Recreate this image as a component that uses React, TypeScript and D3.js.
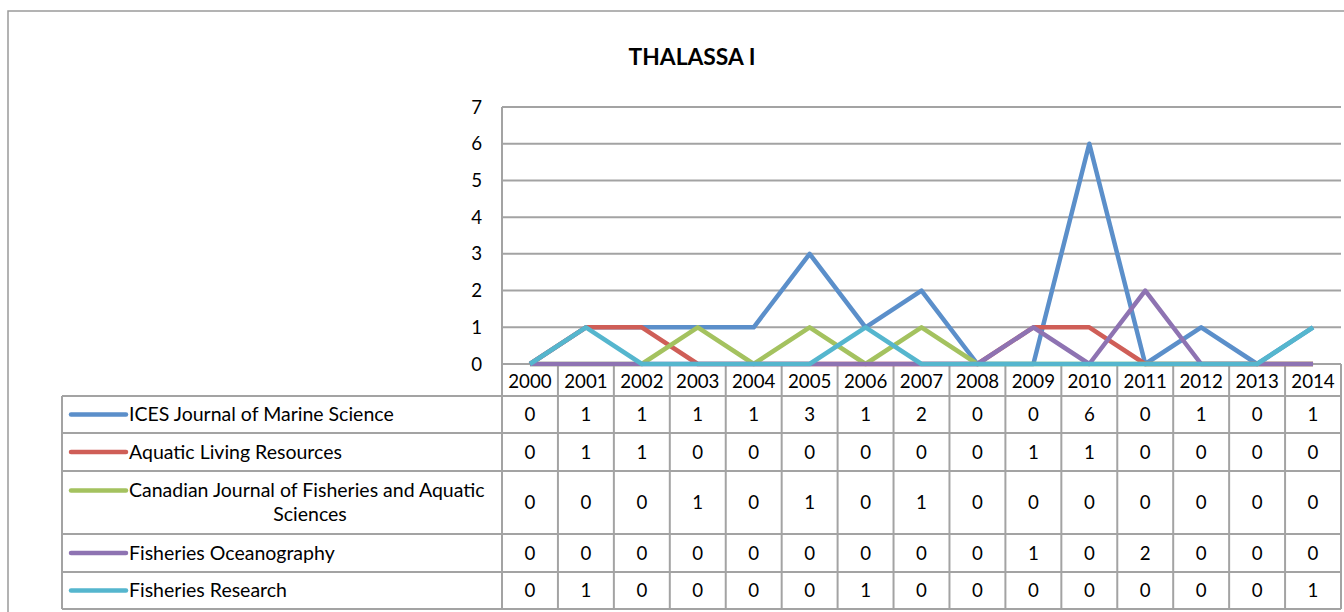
import React from "react";
import * as d3 from "d3";

const years = ["2000","2001","2002","2003","2004","2005","2006","2007","2008","2009","2010","2011","2012","2013","2014"];
const seriesNames = [
  "ICES Journal of Marine Science",
  "Aquatic Living Resources",
  "Canadian Journal of Fisheries and Aquatic Sciences",
  "Fisheries Oceanography",
  "Fisheries Research",
];
const icesValues = [0,1,1,1,1,3,1,2,0,0,6,0,1,0,1];
const aquaticValues = [0,1,1,0,0,0,0,0,0,1,1,0,0,0,0];
const canadianValues = [0,0,0,1,0,1,0,1,0,0,0,0,0,0,0];
const oceanographyValues = [0,0,0,0,0,0,0,0,0,1,0,2,0,0,0];
const researchValues = [0,1,0,0,0,0,1,0,0,0,0,0,0,0,1];
const yTicks = [0,1,2,3,4,5,6,7];
const colors = ["#5B8FCA", "#CF5E57", "#A4C25F", "#8E73B2", "#55B6CE"];

const allValues = [icesValues, aquaticValues, canadianValues, oceanographyValues, researchValues];

const FONT = "Lato, 'Open Sans', sans-serif";
const LABEL_SIZE = 19.5;
const NUM_SIZE = 18.7;

export default function App() {
  const plotL = 502, plotR = 1341, plotT = 107, plotB = 364;
  const x = d3.scaleBand<string>().domain(years).range([plotL, plotR]).padding(0);
  const y = d3.scaleLinear().domain([0, 7]).range([plotB, plotT]);
  const line = d3.line<number>()
    .x((_, i) => (x(years[i]) as number) + x.bandwidth() / 2)
    .y((d) => y(d));

  const headerBottom = 396;
  const rowBounds = [396, 433, 471, 534, 572, 609];
  const legendL = 62;
  const grid = "#A3A3A3";
  const bounds = years.map((yr) => x(yr) as number).concat([plotR]);

  return (
    <div style={{ position: "fixed", left: 0, top: 0 }}>
      <svg width={1344} height={612} style={{ display: "block", background: "#fff" }}>
        <rect x={8} y={11} width={1360} height={640} fill="#fff" stroke="#9A9A9A" strokeWidth={1.5} />
        <text x={692} y={57} dy="0.35em" textAnchor="middle" fontFamily={FONT} fontWeight={700} fontSize={22.8} fill="#000">
          THALASSA I
        </text>
        {/* gridlines */}
        {yTicks.map((t) => (
          <line key={"g" + t} x1={plotL} x2={plotR} y1={y(t)} y2={y(t)} stroke={grid} strokeWidth={2} />
        ))}
        <line x1={plotL} x2={plotL} y1={plotT} y2={plotB} stroke={grid} strokeWidth={2} />
        {yTicks.map((t) => (
          <text key={"t" + t} x={482} y={y(t)} dy="0.35em" textAnchor="end" fontFamily={FONT} fontSize={NUM_SIZE} fill="#000">
            {t}
          </text>
        ))}
        {/* table grid */}
        {bounds.map((bx, i) => (
          <line key={"v" + i} x1={bx} x2={bx} y1={plotB} y2={rowBounds[rowBounds.length - 1]} stroke={grid} strokeWidth={2} />
        ))}
        <line x1={legendL} x2={legendL} y1={headerBottom} y2={rowBounds[rowBounds.length - 1]} stroke={grid} strokeWidth={2} />
        {rowBounds.map((ry, i) => (
          <line key={"h" + i} x1={legendL} x2={plotR} y1={ry} y2={ry} stroke={grid} strokeWidth={2} />
        ))}
        {years.map((yr) => (
          <text key={"y" + yr} x={(x(yr) as number) + x.bandwidth() / 2} y={381} dy="0.35em" textAnchor="middle" fontFamily={FONT} fontSize={NUM_SIZE} fill="#000">
            {yr}
          </text>
        ))}
        {allValues.map((vals, si) => {
          const cy = (rowBounds[si] + rowBounds[si + 1]) / 2;
          const twoLine = si === 2;
          const keyY = twoLine ? cy - 12 : cy;
          return (
            <g key={"r" + si}>
              <line x1={71} x2={126} y1={keyY} y2={keyY} stroke={colors[si]} strokeWidth={4.5} strokeLinecap="round" />
              {twoLine ? (
                <>
                  <text x={129} y={cy - 12} dy="0.35em" fontFamily={FONT} fontSize={LABEL_SIZE} fill="#000">
                    Canadian Journal of Fisheries and Aquatic
                  </text>
                  <text x={310} y={cy + 12} dy="0.35em" textAnchor="middle" fontFamily={FONT} fontSize={LABEL_SIZE} fill="#000">
                    Sciences
                  </text>
                </>
              ) : (
                <text x={129} y={cy} dy="0.35em" fontFamily={FONT} fontSize={LABEL_SIZE} fill="#000">
                  {seriesNames[si]}
                </text>
              )}
              {vals.map((v, i) => (
                <text key={i} x={(x(years[i]) as number) + x.bandwidth() / 2} y={cy} dy="0.35em" textAnchor="middle" fontFamily={FONT} fontSize={NUM_SIZE} fill="#000">
                  {v}
                </text>
              ))}
            </g>
          );
        })}
        {/* series lines */}
        {allValues.map((vals, si) => (
          <path key={"l" + si} d={line(vals) || ""} fill="none" stroke={colors[si]} strokeWidth={4.5} strokeLinejoin="round" strokeLinecap="butt" />
        ))}
      </svg>
    </div>
  );
}
